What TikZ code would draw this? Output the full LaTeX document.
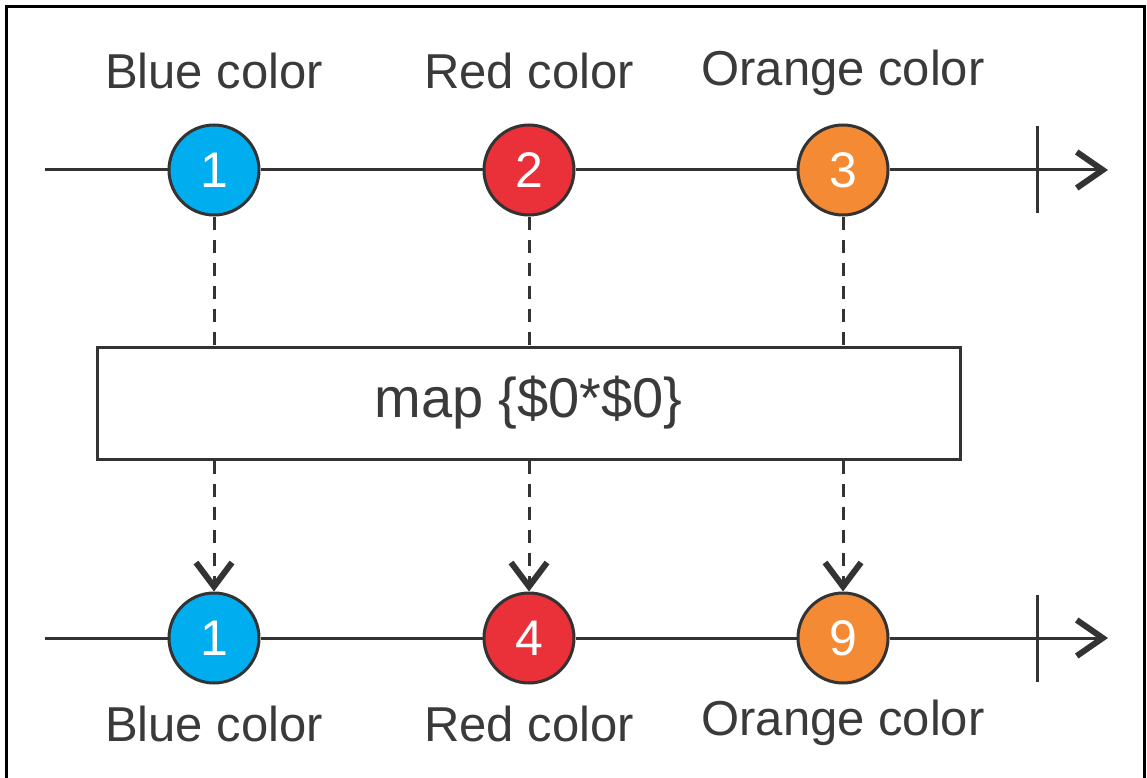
\documentclass[tikz,border=0pt]{standalone}
\usepackage{fontspec}
\setmainfont{Liberation Sans}
\usetikzlibrary{arrows.meta}
\definecolor{ink}{HTML}{333333}
\definecolor{txt}{HTML}{3A3A3A}
\definecolor{cblue}{HTML}{00AEEF}
\definecolor{cred}{HTML}{EA3038}
\definecolor{corange}{HTML}{F48A34}
\tikzset{
  marble/.style={circle, draw=ink, line width=3pt, minimum size=90pt, inner sep=0pt,
    text=white, font=\fontsize{50}{56}\selectfont},
  lbl/.style={text=txt, font=\fontsize{49}{55}\selectfont, inner sep=0pt, anchor=base},
  axis/.style={draw=ink, line width=3pt},
  tipA/.style={-{Straight Barb[length=26pt,width=36pt,line width=6pt]}},
  tipB/.style={-{Straight Barb[length=24pt,width=36pt,line width=6pt]}},
  tick/.style={draw=ink, line width=3pt},
  flow/.style={draw=ink, line width=3pt, dash pattern=on 13pt off 10pt},
  mapbox/.style={draw=ink, line width=3pt, minimum width=863pt, minimum height=112pt,
    inner sep=0pt, text=txt, font=\fontsize{56}{62}\selectfont},
}
\begin{document}
\begin{tikzpicture}[x=1pt,y=-1pt]
\useasboundingbox (0,0) rectangle (1147,778);
\fill[white] (0,0) rectangle (1147,778);
\draw[black, line width=3pt] (6,778) -- (6,7) -- (1144,7) -- (1144,778);

% top stream
\node[marble, fill=cblue] (t1) at (214,170) {1};
\node[marble, fill=cred] (t2) at (529,170) {2};
\node[marble, fill=corange] (t3) at (843,170) {3};
\coordinate (ts) at (45,170);
\coordinate (te) at (1108,170);
\draw[axis] (ts) -- (t1);
\draw[axis] (t1) -- (t2);
\draw[axis] (t2) -- (t3);
\draw[axis, tipA] (t3) -- (te);
\coordinate (tk1) at (1037,126);
\coordinate (tk2) at (1037,213);
\draw[tick] (tk1) -- (tk2);

\node[lbl] (lt1) at (214,89) {Blue color};
\node[lbl] (lt2) at (529,89) {Red color};
\node[lbl] (lt3) at (843,86) {Orange color};

% operator
\node[mapbox] (map) at (528.5,403) {map \{\$0*\$0\}};

% bottom stream
\node[marble, fill=cblue] (b1) at (214,638) {1};
\node[marble, fill=cred] (b2) at (529,638) {4};
\node[marble, fill=corange] (b3) at (843,638) {9};
\coordinate (bs) at (45,638);
\coordinate (be) at (1108,638);
\draw[axis] (bs) -- (b1);
\draw[axis] (b1) -- (b2);
\draw[axis] (b2) -- (b3);
\draw[axis, tipA] (b3) -- (be);
\coordinate (bk1) at (1037,595);
\coordinate (bk2) at (1037,682);
\draw[tick] (bk1) -- (bk2);

\node[lbl] (lb1) at (214,741) {Blue color};
\node[lbl] (lb2) at (529,741) {Red color};
\node[lbl] (lb3) at (843,735) {Orange color};

% flows
\draw[flow] (t1.south) -- (t1.south |- map.north);
\draw[flow] (t2.south) -- (t2.south |- map.north);
\draw[flow] (t3.south) -- (t3.south |- map.north);
\draw[flow, tipB] (b1.north |- map.south) -- (b1.north);
\draw[flow, tipB] (b2.north |- map.south) -- (b2.north);
\draw[flow, tipB] (b3.north |- map.south) -- (b3.north);
\end{tikzpicture}
\end{document}
